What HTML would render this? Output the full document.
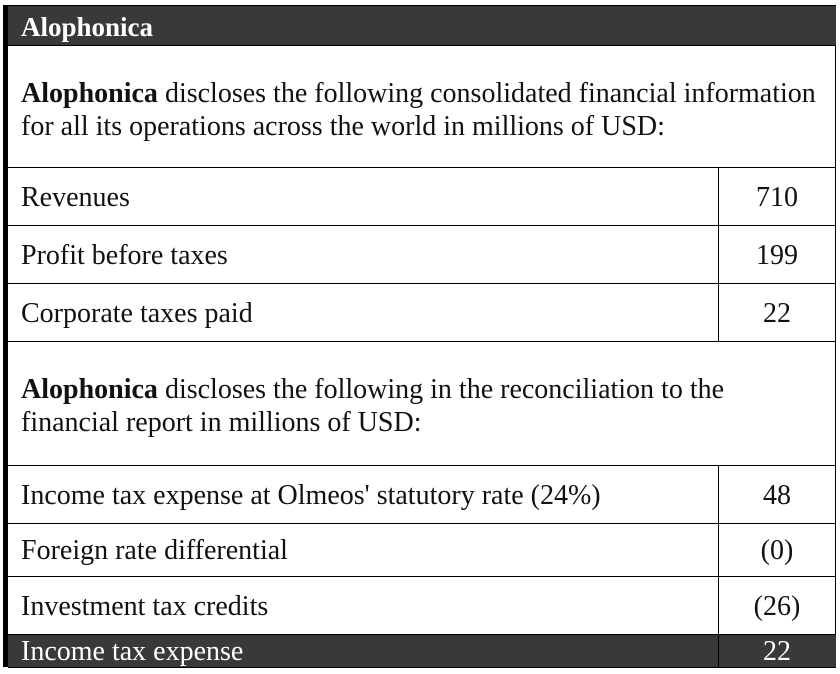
<!DOCTYPE html>
<html><head><meta charset="utf-8"><style>
body{margin:0;width:840px;height:674px;background:#fff;font-family:"Liberation Serif",serif;color:#111;position:relative;overflow:hidden}
.a{position:absolute;box-sizing:border-box}
.row{left:8px;width:828px;border-bottom:1px solid #000}
.lab{position:absolute;left:13px;font-size:28px;white-space:nowrap}
.val{position:absolute;left:710px;width:118px;text-align:center;font-size:28px}
.div{position:absolute;left:710px;top:0;bottom:0;border-left:1px solid #000}
</style></head><body>
<div class="a" style="left:3px;top:5px;width:5px;height:662px;background:#000"></div>
<div class="a" style="left:835px;top:5px;width:1px;height:662px;background:#000"></div>
<div class="a" style="left:8px;top:5px;width:828px;height:41px;background:#3b3838;border-top:1px solid #000;border-bottom:1px solid #000">
<span style="position:absolute;left:13px;top:6px;color:#fff;font-weight:bold;font-size:27px">Alophonica</span></div>
<div class="a row" style="top:46px;height:122px">
<div style="position:absolute;left:13px;top:31px;font-size:28px;line-height:33px;white-space:nowrap"><b>Alophonica</b> discloses the following consolidated financial information<br>for all its operations across the world in millions of USD:</div></div>
<div class="a row" style="top:168px;height:58px"><span class="lab" style="top:14px">Revenues</span><div class="div"></div><span class="val" style="top:14px">710</span></div>
<div class="a row" style="top:226px;height:58px"><span class="lab" style="top:14px">Profit before taxes</span><div class="div"></div><span class="val" style="top:14px">199</span></div>
<div class="a row" style="top:284px;height:58px"><span class="lab" style="top:14px">Corporate taxes paid</span><div class="div"></div><span class="val" style="top:14px">22</span></div>
<div class="a row" style="top:342px;height:124px">
<div style="position:absolute;left:13px;top:31px;font-size:28px;line-height:33px;white-space:nowrap"><b>Alophonica</b> discloses the following in the reconciliation to the<br>financial report in millions of USD:</div></div>
<div class="a row" style="top:466px;height:58px"><span class="lab" style="top:14px">Income tax expense at Olmeos' statutory rate (24%)</span><div class="div"></div><span class="val" style="top:14px">48</span></div>
<div class="a row" style="top:524px;height:53px"><span class="lab" style="top:11px">Foreign rate differential</span><div class="div"></div><span class="val" style="top:11px">(0)</span></div>
<div class="a row" style="top:577px;height:58px"><span class="lab" style="top:14px">Investment tax credits</span><div class="div"></div><span class="val" style="top:14px">(26)</span></div>
<div class="a" style="left:8px;width:828px;top:635px;height:33px;background:#3b3838;color:#fff;border-bottom:1px solid #000"><span class="lab" style="top:1px">Income tax expense</span><div class="div"></div><span class="val" style="top:1px">22</span></div>
</body></html>
